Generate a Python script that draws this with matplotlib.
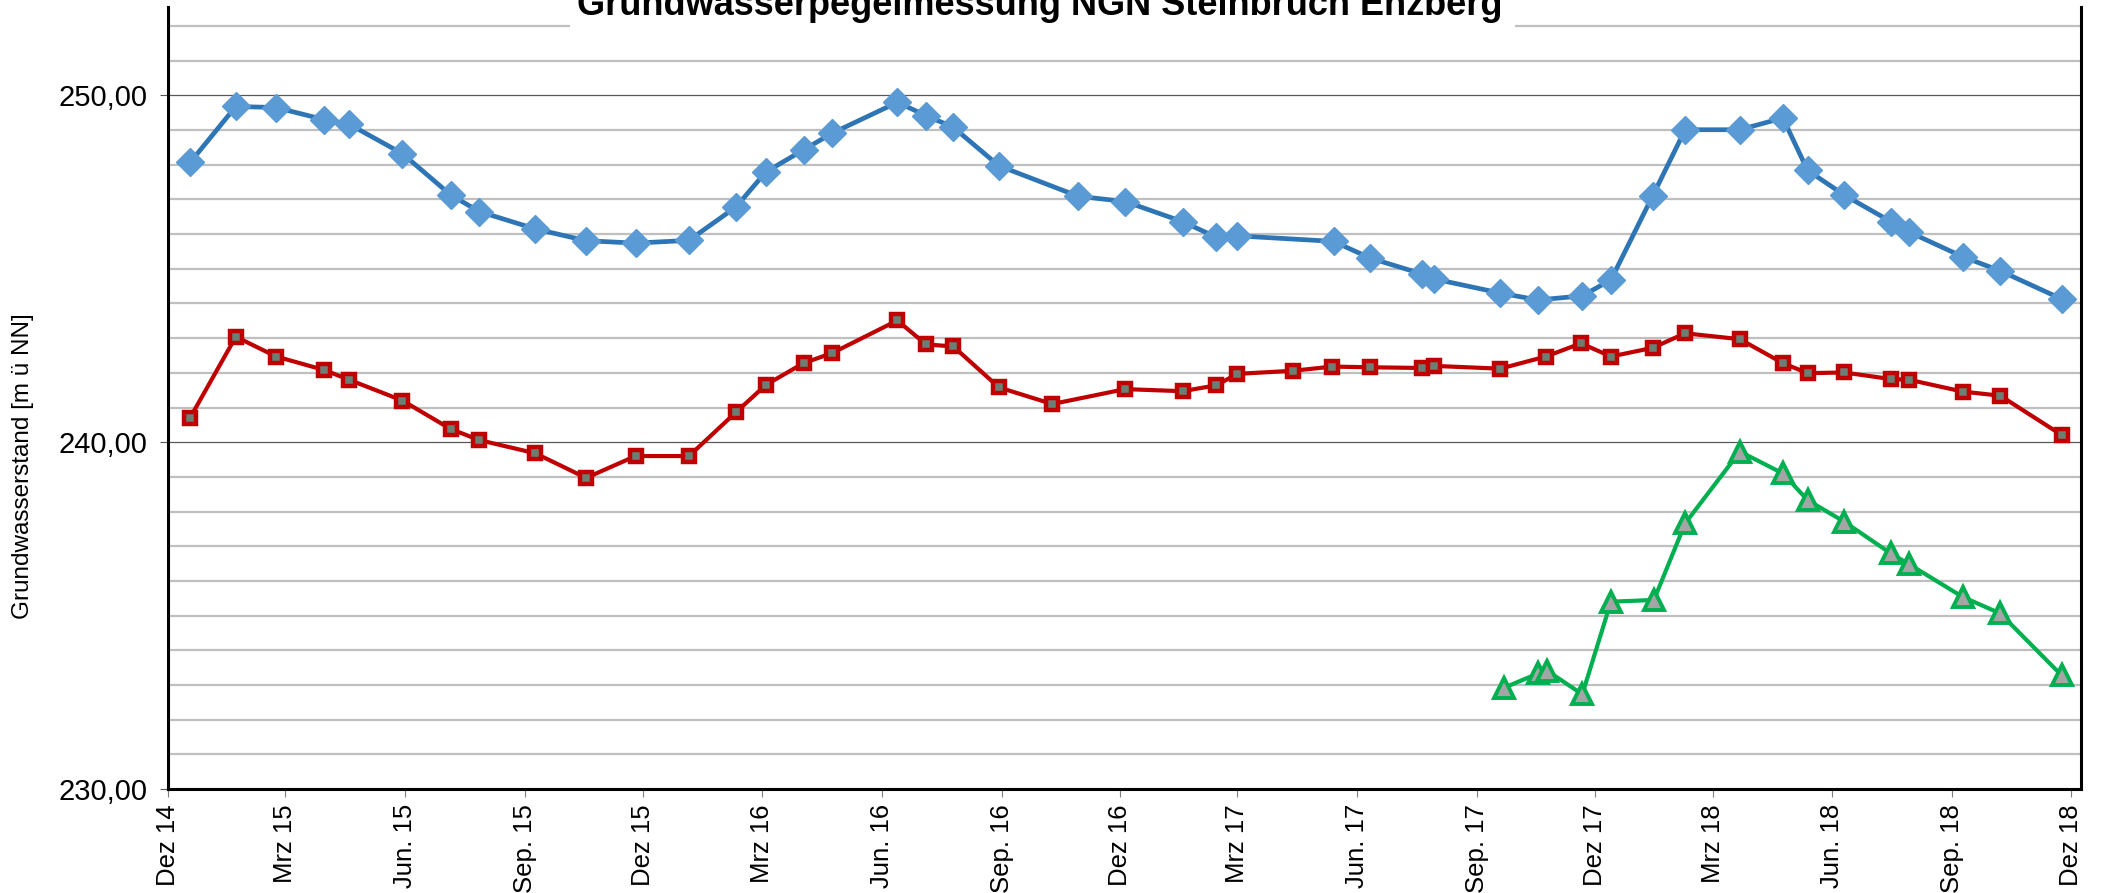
import pandas as pd
import matplotlib
matplotlib.use("Agg")
import matplotlib.pyplot as plt
from matplotlib.patches import Rectangle

plt.rcParams['font.family'] = ['Liberation Sans Narrow', 'Liberation Sans', 'DejaVu Sans']

# Messstelle 1 (blau)
blue_dates = ["2014-12-18", "2015-01-22", "2015-02-22", "2015-03-31", "2015-04-19", "2015-05-30",
              "2015-07-06", "2015-07-28", "2015-09-09", "2015-10-18", "2015-11-25", "2016-01-05",
              "2016-02-10", "2016-03-04", "2016-04-02", "2016-04-24", "2016-06-13", "2016-07-05",
              "2016-07-26", "2016-08-30", "2016-10-30", "2016-12-05", "2017-01-18", "2017-02-13",
              "2017-03-01", "2017-05-14", "2017-06-11", "2017-07-21", "2017-07-30", "2017-09-19",
              "2017-10-18", "2017-11-21", "2017-12-13", "2018-01-14", "2018-02-08", "2018-03-22",
              "2018-04-24", "2018-05-13", "2018-06-10", "2018-07-16", "2018-07-30", "2018-09-09",
              "2018-10-08", "2018-11-24"]
blue_vals = [248.07, 249.68, 249.65, 249.30, 249.17, 248.32, 247.13, 246.65, 246.15, 245.81,
             245.74, 245.82, 246.78, 247.79, 248.43, 248.91, 249.80, 249.42, 249.08, 247.97,
             247.09, 246.94, 246.36, 245.91, 245.95, 245.79, 245.31, 244.85, 244.71, 244.30,
             244.10, 244.22, 244.68, 247.10, 249.01, 249.01, 249.35, 247.84, 247.13, 246.36,
             246.06, 245.35, 244.94, 244.13]

# Messstelle 2 (rot)
red_dates = ["2014-12-18", "2015-01-22", "2015-02-22", "2015-03-31", "2015-04-19", "2015-05-30",
             "2015-07-06", "2015-07-28", "2015-09-09", "2015-10-18", "2015-11-25", "2016-01-05",
             "2016-02-10", "2016-03-04", "2016-04-02", "2016-04-24", "2016-06-13", "2016-07-05",
             "2016-07-26", "2016-08-30", "2016-10-10", "2016-12-05", "2017-01-18", "2017-02-13",
             "2017-03-01", "2017-04-13", "2017-05-13", "2017-06-11", "2017-07-21", "2017-07-30",
             "2017-09-19", "2017-10-24", "2017-11-20", "2017-12-13", "2018-01-14", "2018-02-08",
             "2018-03-22", "2018-04-24", "2018-05-13", "2018-06-10", "2018-07-16", "2018-07-30",
             "2018-09-09", "2018-10-08", "2018-11-24"]
red_vals = [240.71, 243.04, 242.47, 242.08, 241.80, 241.20, 240.38, 240.06, 239.68, 238.97,
            239.60, 239.60, 240.86, 241.65, 242.28, 242.57, 243.51, 242.82, 242.76, 241.58,
            241.10, 241.53, 241.47, 241.64, 241.97, 242.06, 242.18, 242.16, 242.14, 242.20,
            242.12, 242.47, 242.85, 242.47, 242.72, 243.14, 242.97, 242.28, 241.99, 242.01,
            241.82, 241.80, 241.46, 241.34, 240.21]

# Messstelle 3 (gruen)
green_dates = ["2017-09-22", "2017-10-18", "2017-10-25", "2017-11-21", "2017-12-13", "2018-01-15",
               "2018-02-08", "2018-03-22", "2018-04-24", "2018-05-13", "2018-06-10", "2018-07-16",
               "2018-07-30", "2018-09-09", "2018-10-08", "2018-11-24"]
green_vals = [232.92, 233.33, 233.41, 232.73, 235.40, 235.45, 237.66, 239.73, 239.10, 238.33,
              237.71, 236.79, 236.48, 235.54, 235.06, 233.28]

tick_dates = ["2014-12-01", "2015-03-01", "2015-06-01", "2015-09-01", "2015-12-01", "2016-03-01",
              "2016-06-01", "2016-09-01", "2016-12-01", "2017-03-01", "2017-06-01", "2017-09-01",
              "2017-12-01", "2018-03-01", "2018-06-01", "2018-09-01", "2018-12-01"]
tick_labels = ["Dez 14", "Mrz 15", "Jun. 15", "Sep. 15", "Dez 15", "Mrz 16", "Jun. 16", "Sep. 16",
               "Dez 16", "Mrz 17", "Jun. 17", "Sep. 17", "Dez 17", "Mrz 18", "Jun. 18", "Sep. 18",
               "Dez 18"]
y_ticks = [230, 240, 250]
y_labels = ["230,00", "240,00", "250,00"]

title = "Grundwasserpegelmessung NGN Steinbruch Enzberg"
ylabel = "Grundwasserstand [m ü NN]"

fig = plt.figure(figsize=(21.01, 8.93), dpi=100)
ax = fig.add_axes([0.0800, 0.1165, 0.9105, 0.8757])

# Gitternetz: jede Einheit hellgrau, 240/250 dunkel
for v in range(231, 253):
    if v in y_ticks:
        ax.axhline(v, color="#595959", lw=0.9, zorder=1)
    else:
        ax.axhline(v, color="#BFBFBF", lw=1.6, zorder=1)

ax.plot(pd.to_datetime(blue_dates), blue_vals, color="#2E75B6", lw=3.4, marker="D", ms=14,
        mfc="#5B9BD5", mec="#5B9BD5", zorder=3)
ax.plot(pd.to_datetime(red_dates), red_vals, color="#C00000", lw=3.0, marker="s", ms=8,
        mfc="#6B7F74", mec="#C00000", mew=3.2, zorder=3)
ax.plot(pd.to_datetime(green_dates), green_vals, color="#00B050", lw=3.0, marker="^", ms=14,
        mfc="#A5A5A5", mec="#00B050", mew=2.8, zorder=3)

ax.set_xlim(pd.Timestamp("2014-12-01"), pd.Timestamp("2018-12-09"))
ax.set_ylim(230, 252.55)

ax.set_xticks(pd.to_datetime(tick_dates))
ax.set_xticklabels(tick_labels, rotation=90, fontsize=18.5)
ax.set_yticks(y_ticks)
ax.set_yticklabels(y_labels, fontsize=21)
ax.tick_params(axis="x", length=6, width=0.8, color="#7F7F7F", pad=5)
ax.tick_params(axis="y", length=6, width=0.8, color="#595959", pad=9)

for side in ["left", "bottom", "right"]:
    ax.spines[side].set_linewidth(2.2)
    ax.spines[side].set_color("black")
ax.spines["top"].set_visible(False)

# weisser Titelkasten
fig.add_artist(Rectangle((570 / 2101, 1 - 28 / 893), 945 / 2101, 28 / 893,
                         transform=fig.transFigure, facecolor="white", edgecolor="none", zorder=5))
fig.text(1040 / 2101, 1 - 15 / 893, title, ha="center", va="baseline", fontsize=26,
         fontweight="bold", zorder=6)
fig.text(23 / 2101, 1 - 466 / 893, ylabel, rotation=90, ha="center", va="center", fontsize=17.5)

fig.savefig("out.png", dpi=100)
